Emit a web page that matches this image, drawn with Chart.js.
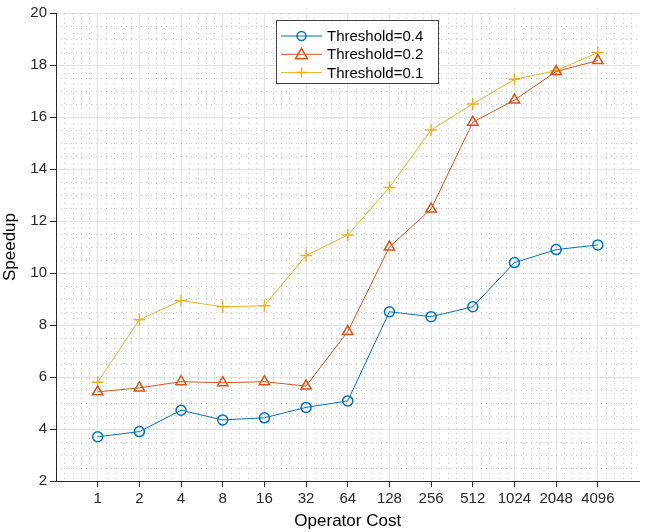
<!DOCTYPE html>
<html>
<head>
<meta charset="utf-8">
<script src="https://cdn.jsdelivr.net/npm/chart.js"></script>
<style>
  html, body { margin: 0; padding: 0; background: #fff; }
  canvas { display: block; }
</style>
</head>
<body>
<canvas id="graficoSpeedup" width="647" height="532"></canvas>
<script>
// operator cost categories (drawn at positions 1..13 on a 0..14 axis)
const custos = ['1', '2', '4', '8', '16', '32', '64', '128', '256', '512', '1024', '2048', '4096'];

const limiar04 = [3.70, 3.90, 4.72, 4.35, 4.43, 4.83, 5.08, 8.51, 8.32, 8.70, 10.40, 10.90, 11.08];
const limiar02 = [5.43, 5.58, 5.82, 5.78, 5.82, 5.65, 7.75, 11.00, 12.46, 15.80, 16.65, 17.75, 18.17];
const limiar01 = [5.80, 8.20, 8.94, 8.70, 8.74, 10.67, 11.46, 13.29, 15.50, 16.50, 17.45, 17.78, 18.48];

const yTicks = [2, 4, 6, 8, 10, 12, 14, 16, 18, 20];

const AZUL = '#0072BD';
const LARANJA = '#D95319';
const AMARELO = '#EDB120';

const FONTE = '"Liberation Sans", Arial, Helvetica, sans-serif';

function pontos(valores){
    return valores.map((v, i) => ({ x: i + 1, y: v }));
}

// dotted minor grid, MATLAB style
const gradeMenor = {
    id: 'gradeMenor',
    beforeDatasetsDraw(chart){
        const { ctx, chartArea: a, scales: { x, y } } = chart;
        ctx.save();
        ctx.beginPath();
        ctx.rect(a.left, a.top, a.right - a.left, a.bottom - a.top);
        ctx.clip();
        ctx.strokeStyle = 'rgba(0,0,0,0.2)';
        ctx.lineWidth = 1;
        ctx.setLineDash([1, 4]);
        for (let v = 2.5; v < 20; v += 0.5) {
            if (Math.abs(v % 2) < 1e-6) continue;
            const py = Math.round(y.getPixelForValue(v)) + 0.5;
            ctx.beginPath();
            ctx.moveTo(a.left, py);
            ctx.lineTo(a.right, py);
            ctx.stroke();
        }
        for (let k = 1; k < 70; k++) {
            if (k % 5 === 0) continue;
            const px = Math.round(x.getPixelForValue(k * 0.2)) + 0.5;
            ctx.beginPath();
            ctx.moveTo(px, a.top);
            ctx.lineTo(px, a.bottom);
            ctx.stroke();
        }
        ctx.restore();
    }
};

function desenhaMarcador(ctx, estilo, cx, cy, cor){
    ctx.strokeStyle = cor;
    ctx.lineWidth = 1.5;
    ctx.beginPath();
    if (estilo === 'circle') {
        ctx.arc(cx, cy, 4.5, 0, Math.PI * 2);
    } else if (estilo === 'triangle') {
        ctx.moveTo(cx, cy - 6);
        ctx.lineTo(cx + 6, cy + 4.5);
        ctx.lineTo(cx - 6, cy + 4.5);
        ctx.closePath();
    } else {
        ctx.moveTo(cx - 5, cy);
        ctx.lineTo(cx + 5, cy);
        ctx.moveTo(cx, cy - 5);
        ctx.lineTo(cx, cy + 5);
    }
    ctx.stroke();
}

// boxed legend inside the plot area
const legendaCaixa = {
    id: 'legendaCaixa',
    afterDraw(chart){
        const { ctx, chartArea: a } = chart;
        const x0 = a.left + 220, y0 = a.top + 7, w = 162, h = 63;
        ctx.save();
        ctx.fillStyle = '#fff';
        ctx.fillRect(x0, y0, w, h);
        ctx.strokeStyle = '#444';
        ctx.lineWidth = 1;
        ctx.strokeRect(x0 + 0.5, y0 + 0.5, w, h);
        ctx.font = '15px ' + FONTE;
        ctx.textBaseline = 'middle';
        chart.data.datasets.forEach((ds, i) => {
            const cy = y0 + 16 + i * 18.3;
            ctx.strokeStyle = ds.borderColor;
            ctx.lineWidth = 1;
            ctx.beginPath();
            ctx.moveTo(x0 + 5, cy);
            ctx.lineTo(x0 + 46, cy);
            ctx.stroke();
            desenhaMarcador(ctx, ds.pointStyle, x0 + 25.5, cy, ds.borderColor);
            ctx.fillStyle = '#000';
            ctx.fillText(ds.label, x0 + 51, cy + 1);
        });
        ctx.restore();
    }
};

function serie(label, valores, cor, estilo, raio){
    return {
        label: label,
        data: pontos(valores),
        borderColor: cor,
        backgroundColor: cor,
        borderWidth: 1,
        pointStyle: estilo,
        pointRadius: raio,
        pointBorderWidth: 1.5,
        pointBackgroundColor: 'rgba(0,0,0,0)',
        pointBorderColor: cor,
        tension: 0
    };
}

new Chart(document.getElementById('graficoSpeedup'), {
    type: 'line',
    data: {
        datasets: [
            serie('Threshold=0.4', limiar04, AZUL, 'circle', 5),
            serie('Threshold=0.2', limiar02, LARANJA, 'triangle', 6),
            serie('Threshold=0.1', limiar01, AMARELO, 'cross', 6)
        ]
    },
    options: {
        responsive: false,
        animation: false,
        events: [],
        layout: { padding: { top: 13, right: 7, left: 0, bottom: 0 } },
        plugins: {
            legend: { display: false },
            tooltip: { enabled: false }
        },
        scales: {
            x: {
                type: 'linear',
                min: 0,
                max: 14,
                afterBuildTicks(scale){
                    scale.ticks = custos.map((_, i) => ({ value: i + 1 }));
                },
                afterFit(scale){ scale.height = 51; },
                ticks: {
                    color: '#262626',
                    font: { family: FONTE, size: 15 },
                    padding: 3,
                    maxRotation: 0,
                    autoSkip: false,
                    callback: v => custos[v - 1] ?? ''
                },
                grid: {
                    color: '#e3e3e3',
                    lineWidth: 1,
                    tickColor: '#262626',
                    tickLength: 6
                },
                border: { color: '#262626', width: 1 },
                title: {
                    display: true,
                    text: 'Operator Cost',
                    color: '#000',
                    font: { family: FONTE, size: 17 },
                    padding: { top: 0, bottom: 0 }
                }
            },
            y: {
                min: 2,
                max: 20,
                afterBuildTicks(scale){
                    scale.ticks = yTicks.map(v => ({ value: v }));
                },
                afterFit(scale){ scale.width = 56; },
                ticks: {
                    color: '#262626',
                    font: { family: FONTE, size: 15 },
                    padding: 3
                },
                grid: {
                    color: '#e3e3e3',
                    lineWidth: 1,
                    tickColor: '#262626',
                    tickLength: 6
                },
                border: { color: '#262626', width: 1 },
                title: {
                    display: true,
                    text: 'Speedup',
                    color: '#000',
                    font: { family: FONTE, size: 17 },
                    padding: { top: 0, bottom: 0 }
                }
            }
        }
    },
    plugins: [gradeMenor, legendaCaixa]
});
</script>
</body>
</html>
